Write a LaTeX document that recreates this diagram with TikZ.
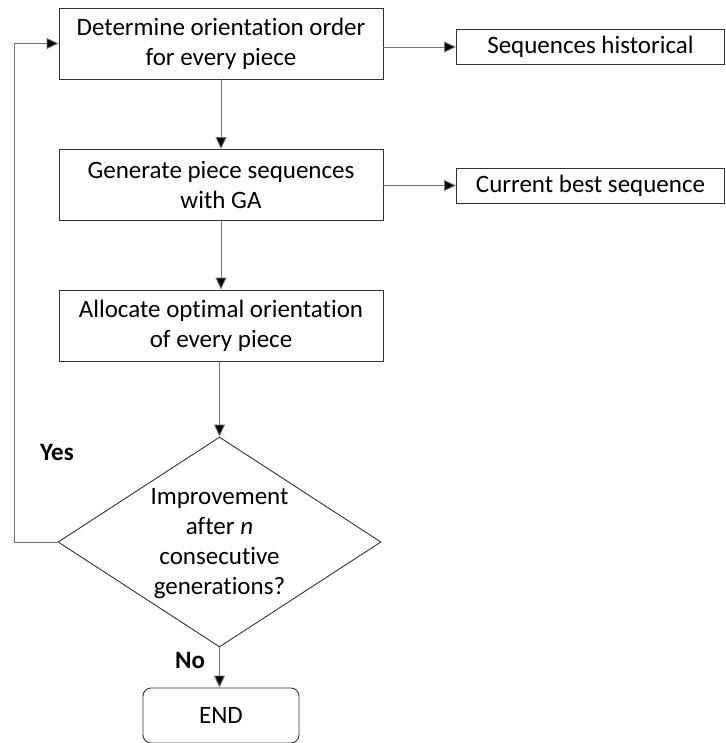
\documentclass[tikz,border=0pt]{standalone}
\usepackage{fontspec}
\setmainfont{Carlito}[Ligatures=CommonOff]
\usetikzlibrary{shapes.geometric,arrows.meta}
\begin{document}
\begin{tikzpicture}[x=1pt,y=-1pt,
  every node/.style={font=\fontsize{25}{30}\selectfont, text=black},
  proc/.style={draw=black!80, line width=0.9pt, minimum width=324pt, minimum height=71pt, align=center, inner sep=0pt},
  side/.style={draw=black!80, line width=0.9pt, minimum width=268pt, minimum height=35pt, inner sep=0pt, align=center},
  dec/.style={draw=black!80, line width=0.9pt, diamond, minimum width=323pt, minimum height=210pt, inner sep=0pt},
  term/.style={draw=black!80, line width=0.9pt, rounded corners=8pt, minimum width=156pt, minimum height=55pt, inner sep=0pt},
  conn/.style={draw=black!55, line width=0.9pt, -{Triangle[length=12pt,width=11pt,fill=black]}},
  lab/.style={font=\fontsize{25}{30}\selectfont\bfseries}
]
\useasboundingbox (0,0) rectangle (725,743);
\node[proc] (b1) at (221,43.5) {Determine orientation order\\for every piece};
\node[proc] (b2) at (221,185) {Generate piece sequences\\with GA};
\node[proc] (b3) at (221,325.5) {Allocate optimal orientation\\of every piece};
\node[dec] (d) at (219.5,542) {};
\node[align=center, inner sep=0pt] (dt) at (219.5,544) {Improvement\\after \textit{n}\\consecutive\\generations?};
\node[term] (e) at (221,715.5) {END};
\node[side] (s1) at (590.5,47) {Sequences historical};
\node[side] (s2) at (590.5,185.5) {Current best sequence};
\coordinate (c1) at (14,542);
\coordinate (c2) at (14,43.5);
\draw[conn] (b1) -- (b2);
\draw[conn] (b2) -- (b3);
\draw[conn] (b3.south -| d.north) -- (d.north);
\draw[conn] (d.south) -- (e.north -| d.south);
\draw[conn] (b1.east |- s1.west) -- (s1.west);
\draw[conn] (b2.east |- s2.west) -- (s2.west);
\draw[conn] (d.west) -- (c1) -- (c2) -- (b1.west);
\node[lab] (yes) at (57,452) {Yes};
\node[lab] (no) at (190,660) {No};
\end{tikzpicture}
\end{document}
